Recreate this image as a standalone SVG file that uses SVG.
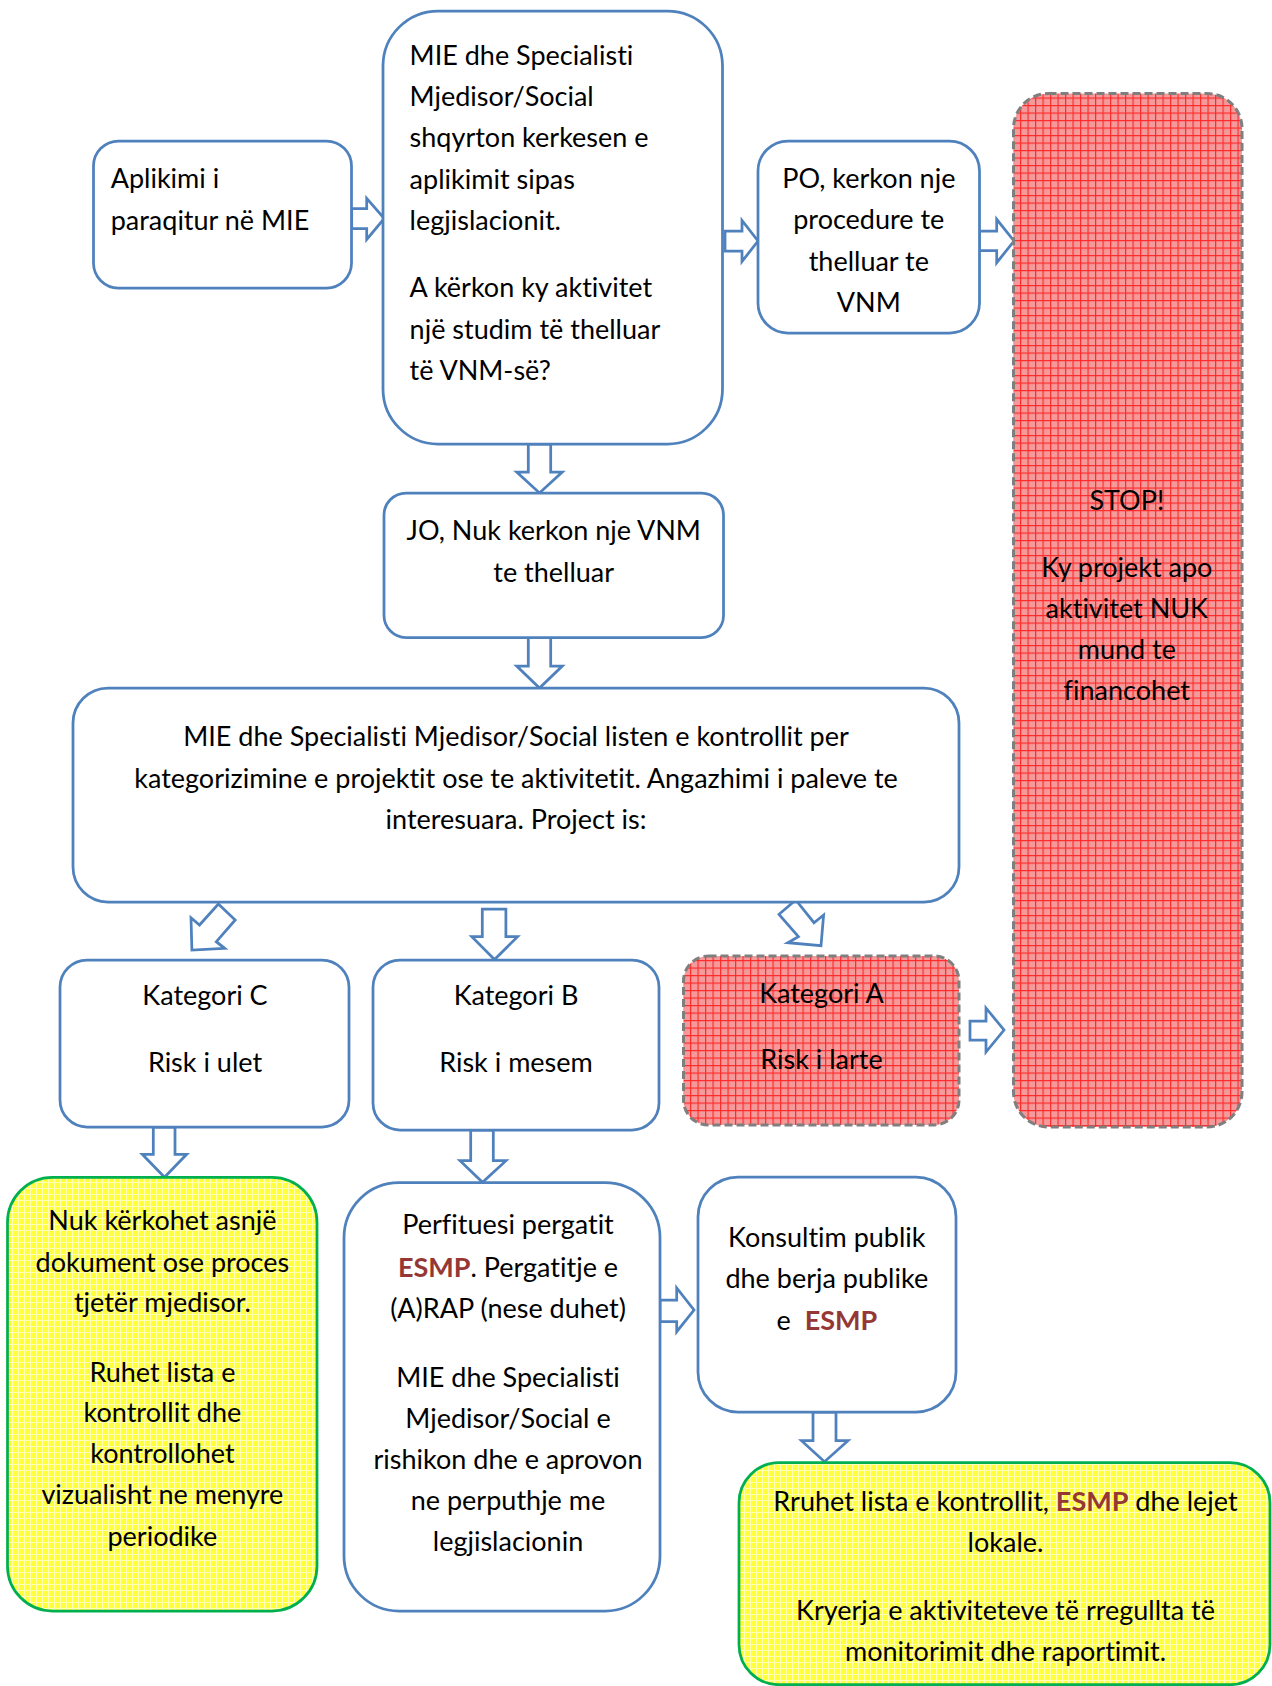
<svg xmlns="http://www.w3.org/2000/svg" width="1272" height="1686" viewBox="0 0 1272 1686">
<style>
.box{fill:#ffffff;stroke:#4f81bd;stroke-width:2.75}
.red{fill:url(#redgrid);stroke:#7f7f7f;stroke-width:3;stroke-dasharray:8 4}
.yel{fill:url(#yelgrid);stroke:#00b050;stroke-width:2.75}
.arr{fill:#ffffff;stroke:#4f81bd;stroke-width:2.75;stroke-linejoin:miter}
text{font-family:Lato,"Liberation Sans",sans-serif;font-size:27px;fill:#000000;font-variant-ligatures:none}
.c{text-anchor:middle}
.esmp{font-weight:bold;fill:#953735}
</style>
<defs>
<pattern id="redgrid" width="7.5" height="7.5" patternUnits="userSpaceOnUse">
<rect width="7.5" height="7.5" fill="#f59a9a"/>
<rect width="7.5" height="1.2" fill="#ff2b2b"/>
<rect width="1.2" height="7.5" fill="#ff2b2b"/>
</pattern>
<pattern id="yelgrid" width="6" height="6" patternUnits="userSpaceOnUse">
<rect width="6" height="6" fill="#ffff3a"/>
<rect width="6" height="1" fill="#ffffb8"/>
<rect width="1" height="6" fill="#ffffb8"/>
</pattern>
</defs>

<g id="connectors">
<polygon class="arr" points="351.7,208.5 366.7,208.5 366.7,198.3 384.3,218.5 366.7,239.5 366.7,228.5 351.7,228.5"/>
<polygon class="arr" points="725,231 742,231 742,220.5 758,241 742,261.5 742,251 725,251"/>
<polygon class="arr" points="979.5,231 996.7,231 996.7,219.3 1014,241 996.7,262.7 996.7,250.7 979.5,250.7"/>
<polygon class="arr" points="970,1021 986,1021 986,1008 1004,1030 986,1052 986,1040 970,1040"/>
<polygon class="arr" points="660,1300 676.7,1300 676.7,1288 694,1310 676.7,1331.7 676.7,1321.7 660,1321.7"/>
<polygon class="arr" points="528.3,444 550.7,444 550.7,472 562.3,472 539.5,493 516.7,472 528.3,472"/>
<polygon class="arr" points="528.3,637.5 550.7,637.5 550.7,666 562.3,666 539.5,688 516.7,666 528.3,666"/>
<polygon class="arr" points="482.3,909 505.9,909 505.9,936.7 517.6,936.7 494.5,959.5 471.8,936.7 482.3,936.7"/>
<polygon class="arr" points="153.3,1127 175,1127 175,1154.3 186.7,1154.3 164.5,1177.3 142.3,1154.3 153.3,1154.3"/>
<polygon class="arr" points="470.7,1130 493.3,1130 493.3,1160.7 506,1160.7 482.5,1182.3 460,1160.7 470.7,1160.7"/>
<polygon class="arr" points="813,1412 836,1412 836,1440.7 848,1440.7 824.5,1461.7 801.5,1440.7 813,1440.7"/>
<polygon class="arr" points="218.4,904 235.2,920 216.3,941.7 224.7,948.3 191.9,950 191,917.7 199.5,925"/>
<polygon class="arr" points="795.8,900 814,922.7 823.6,915 821,945.7 787.8,942.7 798.4,936.7 779,914.3"/>
</g>

<g id="n-aplikimi">
<rect class="box" x="93.5" y="141" width="258" height="147" rx="25"/>
<text x="110.7" y="188">Aplikimi i</text>
<text x="110.7" y="230">paraqitur në MIE</text>
</g>

<g id="n-mie">
<rect class="box" x="383" y="11" width="339.5" height="433" rx="55"/>
<text x="409.6" y="64.5">MIE dhe Specialisti</text>
<text x="409.6" y="106">Mjedisor/Social</text>
<text x="409.6" y="147">shqyrton kerkesen e</text>
<text x="409.6" y="189">aplikimit sipas</text>
<text x="409.6" y="230">legjislacionit.</text>
<text x="409.6" y="296.5">A kërkon ky aktivitet</text>
<text x="409.6" y="338.5">një studim të thelluar</text>
<text x="409.6" y="379.5">të VNM-së?</text>
</g>

<g id="n-po">
<rect class="box" x="758" y="141" width="221.5" height="192" rx="30"/>
<text class="c" x="868.8" y="188">PO, kerkon nje</text>
<text class="c" x="868.8" y="229">procedure te</text>
<text class="c" x="868.8" y="271">thelluar te</text>
<text class="c" x="868.8" y="311.5">VNM</text>
</g>

<g id="n-stop">
<rect class="red" x="1013.5" y="93.5" width="228.5" height="1033.5" rx="35"/>
<text class="c" x="1126.8" y="509.5">STOP!</text>
<text class="c" x="1126.8" y="577">Ky projekt apo</text>
<text class="c" x="1126.8" y="618">aktivitet NUK</text>
<text class="c" x="1126.8" y="659">mund te</text>
<text class="c" x="1126.8" y="700">financohet</text>
</g>

<g id="n-jo">
<rect class="box" x="384" y="493" width="339.5" height="144.5" rx="22"/>
<text class="c" x="553.7" y="539.5">JO, Nuk kerkon nje VNM</text>
<text class="c" x="553.7" y="581.5">te thelluar</text>
</g>

<g id="n-lista">
<rect class="box" x="73" y="688" width="886" height="214" rx="35"/>
<text class="c" x="516" y="746">MIE dhe Specialisti Mjedisor/Social listen e kontrollit per</text>
<text class="c" x="516" y="788">kategorizimine e projektit ose te aktivitetit. Angazhimi i paleve te</text>
<text class="c" x="516" y="829">interesuara. Project is:</text>
</g>

<g id="n-katc">
<rect class="box" x="60" y="960" width="289" height="167" rx="27"/>
<text class="c" x="205" y="1005">Kategori C</text>
<text class="c" x="205" y="1072">Risk i ulet</text>
</g>

<g id="n-katb">
<rect class="box" x="373" y="960" width="286" height="170" rx="27"/>
<text class="c" x="516" y="1005">Kategori B</text>
<text class="c" x="516" y="1072">Risk i mesem</text>
</g>

<g id="n-kata">
<rect class="red" x="683.5" y="956" width="275.5" height="169" rx="25"/>
<text class="c" x="821.5" y="1002.5">Kategori A</text>
<text class="c" x="821.5" y="1069">Risk i larte</text>
</g>

<g id="n-nuk">
<rect class="yel" x="7.5" y="1177.3" width="309.5" height="433.7" rx="45"/>
<text class="c" x="162.4" y="1230">Nuk kërkohet asnjë</text>
<text class="c" x="162.4" y="1271.5">dokument ose proces</text>
<text class="c" x="162.4" y="1312">tjetër mjedisor.</text>
<text class="c" x="162.4" y="1381.5">Ruhet lista e</text>
<text class="c" x="162.4" y="1422">kontrollit dhe</text>
<text class="c" x="162.4" y="1463">kontrollohet</text>
<text class="c" x="162.4" y="1504">vizualisht ne menyre</text>
<text class="c" x="162.4" y="1546">periodike</text>
</g>

<g id="n-perfituesi">
<rect class="box" x="344" y="1182.7" width="316" height="428.3" rx="55"/>
<text class="c" x="508" y="1234">Perfituesi pergatit</text>
<text class="c" x="508" y="1276.5"><tspan class="esmp">ESMP</tspan>. Pergatitje e</text>
<text class="c" x="508" y="1318">(A)RAP (nese duhet)</text>
<text class="c" x="508" y="1387">MIE dhe Specialisti</text>
<text class="c" x="508" y="1428">Mjedisor/Social e</text>
<text class="c" x="508" y="1469">rishikon dhe e aprovon</text>
<text class="c" x="508" y="1509.5">ne perputhje me</text>
<text class="c" x="508" y="1551">legjislacionin</text>
</g>

<g id="n-konsultim">
<rect class="box" x="698" y="1177" width="258" height="235" rx="40"/>
<text class="c" x="826.8" y="1247">Konsultim publik</text>
<text class="c" x="826.8" y="1288">dhe berja publike</text>
<text class="c" x="826.8" y="1330">e<tspan class="esmp" dx="14">ESMP</tspan></text>
</g>

<g id="n-rruhet">
<rect class="yel" x="739" y="1462.7" width="531" height="222" rx="40"/>
<text class="c" x="1005.5" y="1510.5">Rruhet lista e kontrollit, <tspan class="esmp">ESMP</tspan> dhe lejet</text>
<text class="c" x="1005.5" y="1551.5">lokale.</text>
<text class="c" x="1005.5" y="1620">Kryerja e aktiviteteve të rregullta të</text>
<text class="c" x="1005.5" y="1661">monitorimit dhe raportimit.</text>
</g>
</svg>
